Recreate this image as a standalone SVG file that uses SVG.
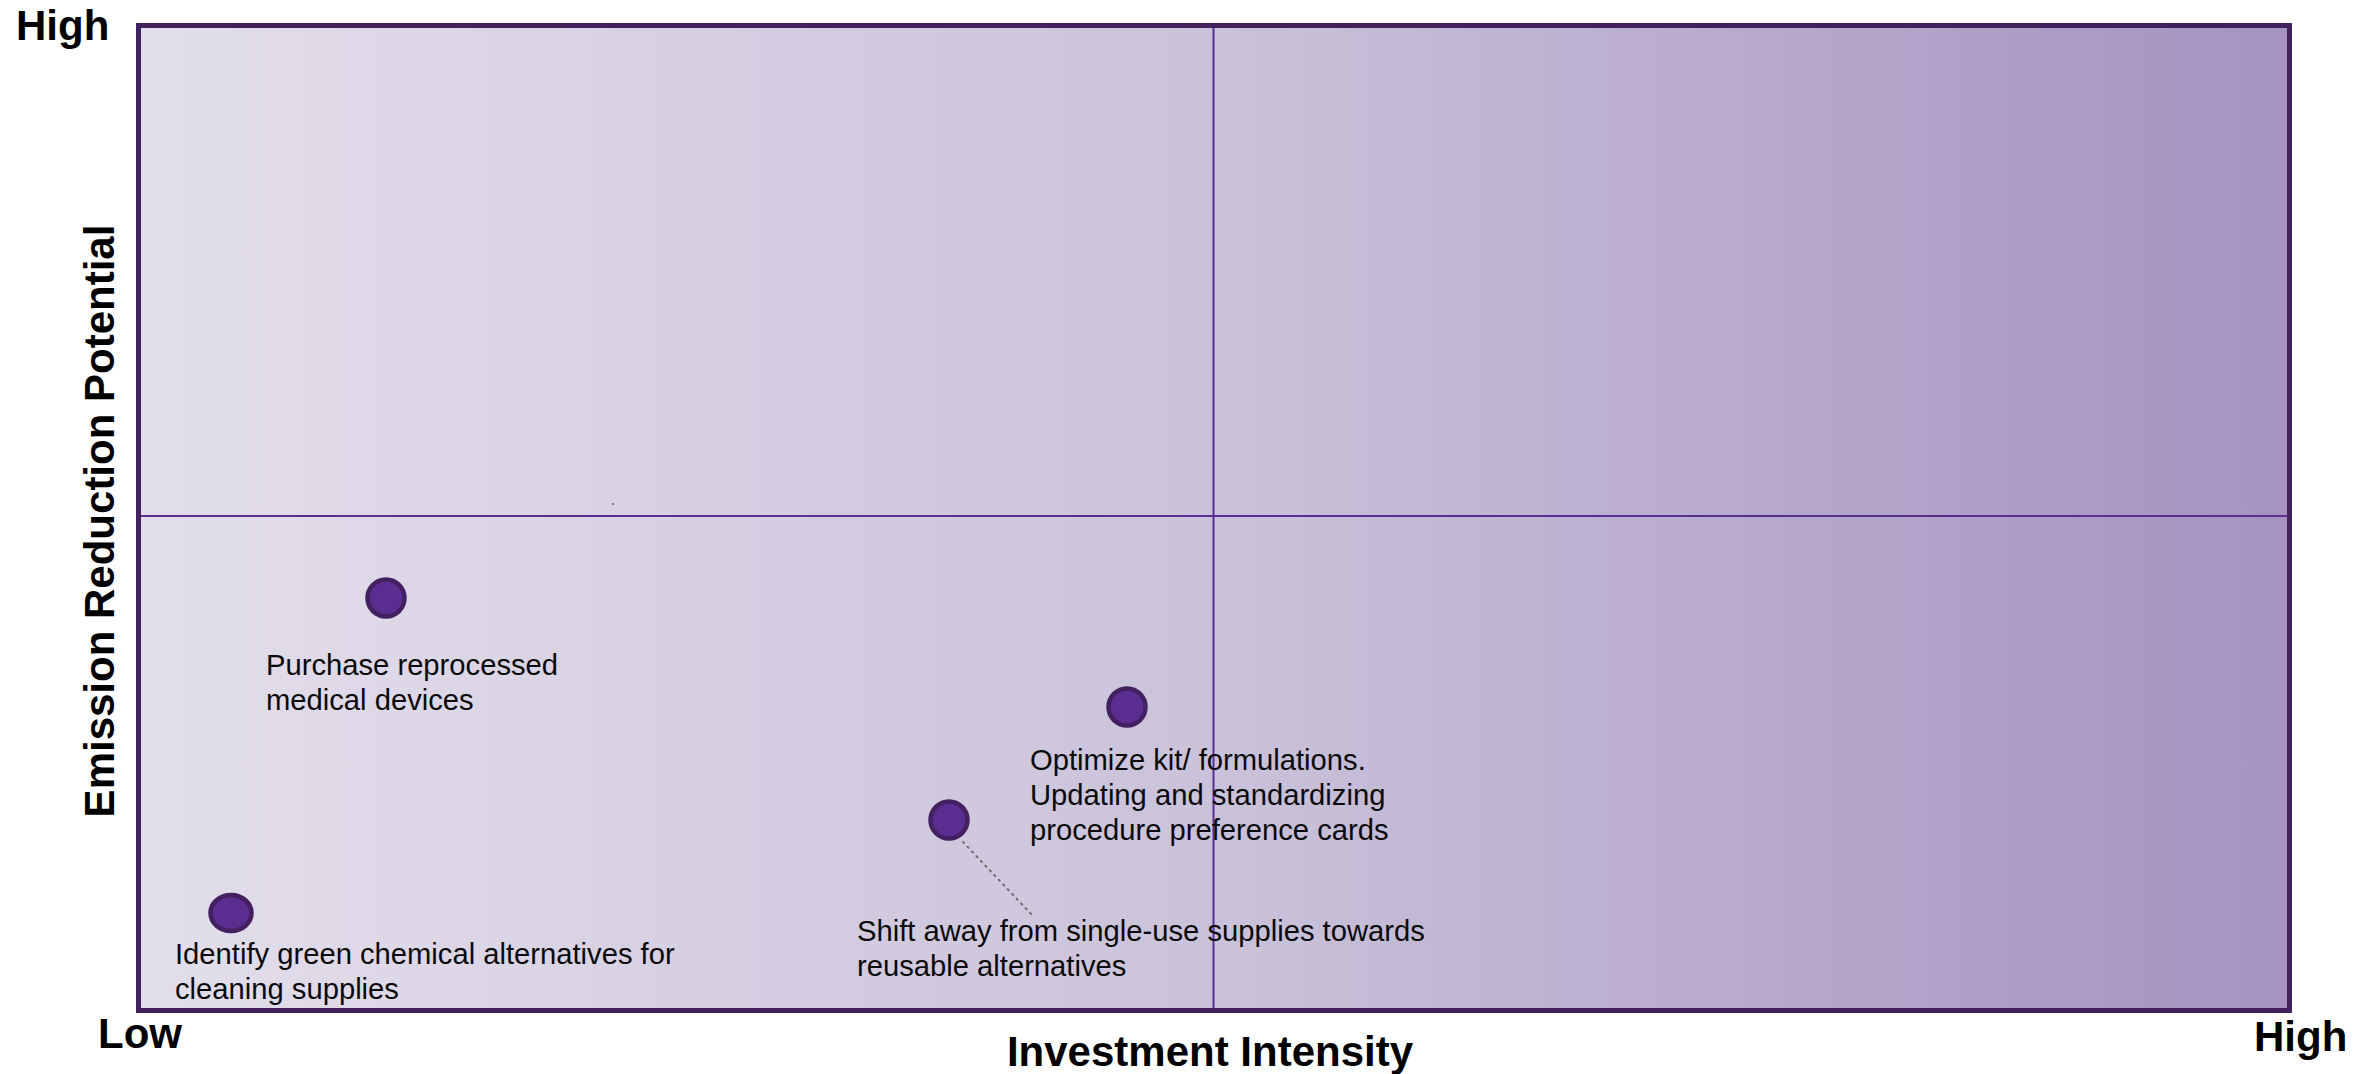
<svg xmlns="http://www.w3.org/2000/svg" width="2372" height="1074" viewBox="0 0 2372 1074">
  <style>
    .axis { font-family: "Liberation Sans", Arial, sans-serif; font-weight: bold; font-size: 42px; fill: #000; }
    .lbl { font-family: "Liberation Sans", Arial, sans-serif; font-size: 29.2px; fill: #0a0a0a; }
    .dot { fill: #5a2e91; stroke: #43205f; stroke-width: 4.5; }
    .quad { stroke: #5a2d91; stroke-width: 2; fill: none; }
    .leader { stroke: #6e6e6e; stroke-width: 2; stroke-dasharray: 1.5 5; fill: none; stroke-linecap: round; }
  </style>
  <defs>
    <linearGradient id="bg" x1="0" y1="0" x2="1" y2="0">
      <stop offset="0" stop-color="#e3deeb"/>
      <stop offset="0.5" stop-color="#cac2da"/>
      <stop offset="1" stop-color="#a592c0"/>
    </linearGradient>
  </defs>
  <rect width="2372" height="1074" fill="#ffffff"/>
  <g id="plot">
    <rect x="138.5" y="25.5" width="2151" height="985" fill="url(#bg)" stroke="#42215f" stroke-width="5"/>
    <line class="quad" x1="1213.5" y1="28" x2="1213.5" y2="1008"/>
    <line class="quad" x1="141" y1="516" x2="2287" y2="516"/>
    <rect x="612" y="503" width="2" height="2" fill="#707070"/>
  </g>
  <g id="axis-labels">
    <text class="axis" x="16" y="40">High</text>
    <text class="axis" x="98" y="1048">Low</text>
    <text class="axis" x="2254" y="1051">High</text>
    <text class="axis" x="1210" y="1066" text-anchor="middle">Investment Intensity</text>
    <text class="axis" transform="translate(114 521) rotate(-90)" text-anchor="middle">Emission Reduction Potential</text>
  </g>
  <g id="connectors">
    <line class="leader" x1="963" y1="842" x2="1033" y2="916"/>
  </g>
  <g id="node-reprocessed">
    <circle class="dot" cx="386" cy="598" r="18.5"/>
    <text class="lbl" x="266" y="675">Purchase reprocessed</text>
    <text class="lbl" x="266" y="710">medical devices</text>
  </g>
  <g id="node-green-chemical">
    <ellipse class="dot" cx="231" cy="913" rx="20.5" ry="18"/>
    <text class="lbl" x="175" y="964">Identify green chemical alternatives for</text>
    <text class="lbl" x="175" y="999">cleaning supplies</text>
  </g>
  <g id="node-optimize-kit">
    <circle class="dot" cx="1127" cy="707" r="18.5"/>
    <text class="lbl" x="1030" y="770">Optimize kit/ formulations.</text>
    <text class="lbl" x="1030" y="805">Updating and standardizing</text>
    <text class="lbl" x="1030" y="840">procedure preference cards</text>
  </g>
  <g id="node-single-use">
    <circle class="dot" cx="949" cy="820" r="18.5"/>
    <text class="lbl" x="857" y="941">Shift away from single-use supplies towards</text>
    <text class="lbl" x="857" y="976">reusable alternatives</text>
  </g>
</svg>
